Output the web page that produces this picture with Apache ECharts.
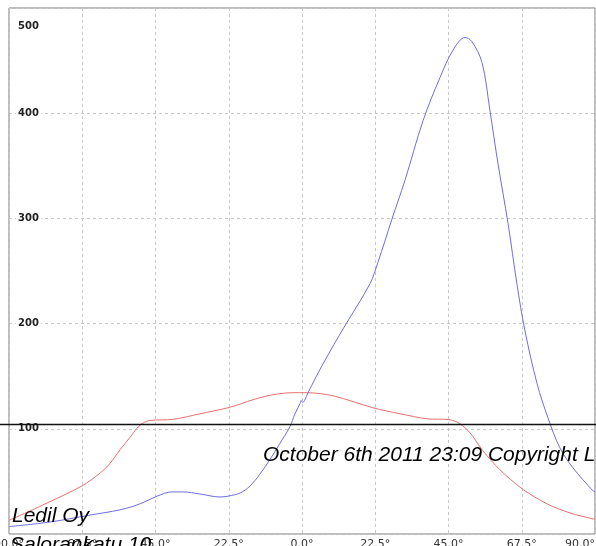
<!DOCTYPE html>
<html>
<head>
<meta charset="utf-8">
<script src="https://cdn.jsdelivr.net/npm/echarts@6/dist/echarts.min.js"></script>
<style>
  html, body { margin: 0; padding: 0; background: #fff; }
  #chart { width: 596px; height: 546px; }
</style>
</head>
<body>
<div id="chart"></div>
<script>
'use strict';

//tick labels of the angle axis, from -90 to 90
var angleTicks = ['90.0°', '67.5°', '45.0°', '22.5°', '0.0°', '22.5°', '45.0°', '67.5°', '90.0°'];

//blue curve
var blueAngles = [-90, -77.4, -65.1, -55.9, -49.8, -44.5, -39.9, -36.6, -31.3, -25.2, -22.7, -19, -16, -12.9, -9.8, -6.8, -3.7, -2.2, -0.6, -0.3, 0.2, 0.8, 1.8, 6.5, 13.2, 20.9, 23.3, 27.6, 31.6, 37.2, 42.4, 46.4, 50.1, 52.2, 55.3, 57.7, 60.2, 63.3, 66, 68.5, 72.2, 75.6, 79.2, 83.2, 89.4, 90];
var blueValues = [7, 11.4, 18, 23, 28.6, 36, 40, 40, 38, 35.2, 36, 39, 45.5, 57, 71, 86, 102, 114, 124, 127, 125, 127, 134, 162, 198, 238, 258, 299, 336, 393, 434, 460, 472, 468, 448, 403, 352, 295, 238, 193, 143, 110, 82, 63, 41, 40];

//red curve
var redAngles = [-90, -80, -67.6, -62, -59, -55.9, -52.8, -50.7, -48.8, -46.7, -39.6, -31.3, -22.1, -15.1, -8.9, -2.8, 1.5, 9.5, 21.8, 30.1, 38.4, 45.5, 48.5, 51.6, 55.6, 60.8, 67.6, 75.3, 82.3, 89.4, 90];
var redValues = [13, 27, 45.7, 58, 67, 80, 92, 100.5, 105.5, 108, 109, 114.3, 120.5, 127.6, 132.4, 134.3, 134.3, 131.4, 120, 114.3, 109.5, 108.6, 104.8, 96.2, 79, 61, 43, 28.6, 20, 14.3, 14];

//black reference line value
var refLineValue = 104;

//caption texts
var captions = ['October 6th 2011 23:09 Copyright Ledil Oy', 'Ledil Oy', 'Salorankatu 10'];

function pairs(xs, ys) {
  return xs.map(function(x, i) { return [x, ys[i]]; });
}

var chart = echarts.init(document.getElementById('chart'), null, { renderer: 'canvas' });

var gridLine = { show: true, lineStyle: { color: '#c8c8c8', type: [3, 3], width: 1 } };
var yLabelFont = { fontFamily: 'DejaVu Sans', fontSize: 10, fontWeight: 'bold', color: '#222' };

chart.setOption({
  animation: false,
  backgroundColor: '#fff',
  grid: {
    left: 9, right: 1, top: 8, bottom: 12,
    outerBoundsMode: 'none', containLabel: false,
    show: true, borderColor: '#7a7a7a', borderWidth: 1, backgroundColor: 'transparent'
  },
  xAxis: {
    type: 'value',
    min: -90, max: 90, interval: 22.5,
    axisLine: { show: false },
    axisTick: { show: false },
    splitLine: gridLine,
    axisLabel: {
      margin: 5,
      fontFamily: 'DejaVu Sans', fontSize: 11, color: '#333',
      alignMaxLabel: 'right',
      formatter: function(v) {
        return angleTicks[Math.round((v + 90) / 22.5)];
      }
    }
  },
  yAxis: {
    type: 'value',
    min: 0, max: 500, interval: 100,
    axisLine: { show: false },
    axisTick: { show: false },
    splitLine: gridLine,
    axisLabel: Object.assign({
      inside: true, margin: 7, showMinLabel: false,
      formatter: function(v) { return v === 500 ? '{top|' + v + '}' : '{n|' + v + '}'; },
      rich: {
        top: Object.assign({ padding: [36, 2, 0, 2] }, yLabelFont),
        n: Object.assign({ backgroundColor: '#fff', padding: [1, 2] }, yLabelFont)
      }
    }, yLabelFont)
  },
  series: [
    {
      type: 'line', data: pairs(redAngles, redValues), smooth: 0.3, showSymbol: false,
      lineStyle: { color: '#e67070', width: 1 }, z: 3
    },
    {
      type: 'line', data: pairs(blueAngles, blueValues), smooth: 0.35, showSymbol: false,
      lineStyle: { color: '#6e6ee0', width: 1 }, z: 4
    }
  ]
});

//reference line across the whole width plus captions
var refY = chart.convertToPixel({ yAxisIndex: 0 }, refLineValue);
var captionFont = 'italic 21px "Liberation Sans", Arial, sans-serif';
chart.setOption({
  graphic: [
    { type: 'line', shape: { x1: 0, y1: refY, x2: 596, y2: refY }, style: { stroke: '#111', lineWidth: 1.5 }, z: 10 },
    { type: 'text', x: 263, y: 445, style: { text: captions[0], font: captionFont, fill: '#000' }, z: 10 },
    { type: 'text', x: 12, y: 506, style: { text: captions[1], font: captionFont, fill: '#000' }, z: 10 },
    { type: 'text', x: 10, y: 535, style: { text: captions[2], font: captionFont, fill: '#000' }, z: 10 }
  ]
});
</script>
</body>
</html>
